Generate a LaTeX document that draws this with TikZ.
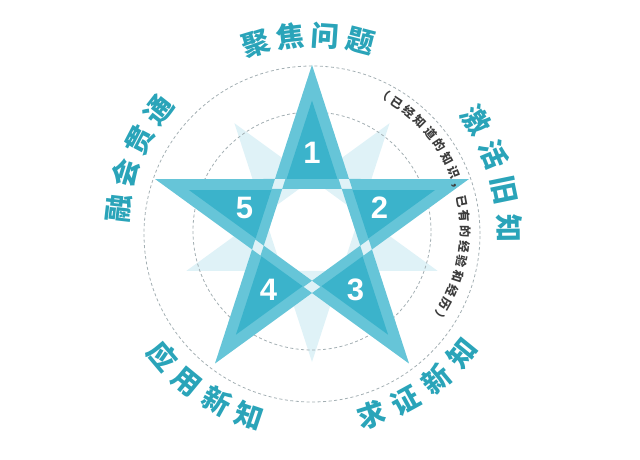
\documentclass[tikz,border=0pt]{standalone}
\usepackage{fontspec}
\setmainfont{Liberation Sans}
\newfontfamily\cjk{Noto Sans CJK SC}
\usepackage{tikz}
\usetikzlibrary{decorations.text}
\usetikzlibrary{positioning}

\definecolor{band}{HTML}{66C5D8}
\definecolor{deep}{HTML}{3BB3CB}
\definecolor{pale}{HTML}{DFF2F7}
\definecolor{ringgray}{HTML}{A3AFB3}
\definecolor{labelcol}{HTML}{2AA4B9}
\definecolor{notecol}{HTML}{3C3C3C}

\newcommand{\lbl}{\cjk\bfseries\fontsize{28}{28}\selectfont\color{labelcol}}
\newcommand{\note}{\cjk\bfseries\fontsize{12}{12}\selectfont\color{notecol}}

\tikzset{every picture/.style={x=1pt, y=1pt}}
\tikzstyle{guide}    = [draw=ringgray, line width=0.8pt, dash pattern=on 3pt off 2.5pt]
\tikzstyle{num}      = [text=white, font=\bfseries\fontsize{31}{31}\selectfont, inner sep=0pt]
\tikzstyle{arclabel} = [decorate, decoration={text along path, text align=fit to path}]

\begin{document}
\begin{tikzpicture}
	\useasboundingbox (-312,-230) rectangle (328,230);

	\fill[pale] \foreach \a in {90,162,234,306,18} {(\a+36:132) -- (\a:50.4) -- (\a+72:50.4) -- cycle};
	\draw[guide] (0,-4) circle (168);
	\draw[guide] (0,-1) circle (119);

	\fill[pale] \foreach \a in {90,162,234,306,18} {(\a:165) -- (\a+44.5:57.5) -- (\a-44.5:57.5) -- cycle};
	\fill[band, even odd rule] \foreach \a in {90,162,234,306,18} {(\a:165) -- (\a+44.5:57.5) -- (\a-44.5:57.5) -- cycle};
	\fill[deep] \foreach \a in {90,162,234,306,18} {(\a:129.4) -- (\a+26.5:57) -- (\a-26.5:57) -- cycle};

	\node[num] (p1) at (90:77)  {1};
	\node[num] (p2) at (18:71)  {2};
	\node[num] (p3) at (306:74) {3};
	\node[num] (p4) at (234:74) {4};
	\node[num] (p5) at (162:71) {5};

	\path[arclabel, decoration={text={|\lbl|聚焦问题}}] (111.1:184.4) arc[start angle=111.1, end angle=71.3, radius=184.4];
	\path[arclabel, decoration={text={|\lbl|激活旧知}}] (38:186.4) arc[start angle=38, end angle=-3.7, radius=186.4];
	\path[arclabel, decoration={text={|\lbl|融会贯通}}] (177.9:184.4) arc[start angle=177.9, end angle=137.6, radius=184.4];
	\path[arclabel, decoration={text={|\lbl|应用新知}}] (216.3:206.6) arc[start angle=216.3, end angle=255.2, radius=206.6];
	\path[arclabel, decoration={text={|\lbl|求证新知}}] (283.9:205) arc[start angle=283.9, end angle=324.7, radius=205];
	\path[arclabel, decoration={text={|\note|（已经知道的知识，已有的经验和经历）}}] (64.4:148.5) arc[start angle=64.4, end angle=-37.1, radius=148.5];
\end{tikzpicture}
\end{document}
